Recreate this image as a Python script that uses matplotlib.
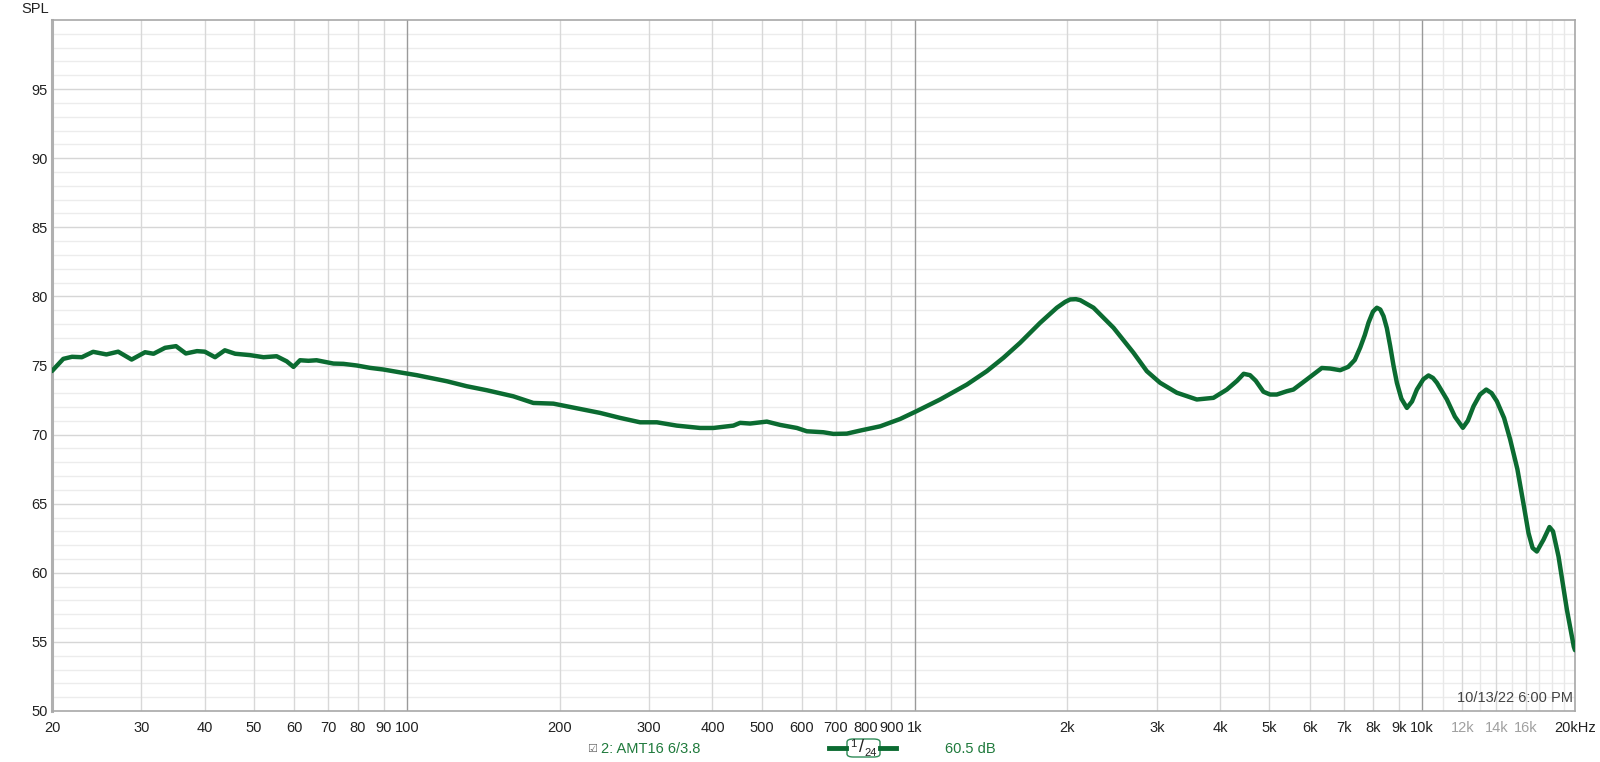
import matplotlib
matplotlib.use('Agg')
import matplotlib.pyplot as plt
from matplotlib.lines import Line2D
from matplotlib.patches import FancyBboxPatch
import numpy as np

plt.rcParams['font.family'] = ['Liberation Sans', 'DejaVu Sans']

freq = [20.0, 21.05, 21.9, 22.9, 24.1, 25.6, 27.0, 28.7, 30.5, 31.7, 33.4, 35.1,
        36.7, 38.6, 40.0, 41.9, 43.8, 45.9, 49.1, 52.2, 55.4, 58.0, 59.8, 61.6,
        64.0, 66.4, 71.7, 75.0, 79.7, 84.6, 89.9, 97.0, 104.6, 119.9, 131.2,
        143.7, 162.1, 177.5, 194.4, 219.4, 240.2, 263.0, 288.0, 310.8, 340.2,
        378.2, 401.6, 439.8, 453.4, 474.4, 511.8, 543.8, 586.4, 613.6, 661.4,
        692.2, 735.6, 781.4, 855.8, 936.8, 1010, 1123, 1268, 1388, 1497, 1614,
        1768, 1907, 1980, 2026, 2080, 2120, 2252, 2466, 2700, 2868, 3046, 3286,
        3598, 3880, 4124, 4320, 4450, 4580, 4700, 4868, 5018, 5172, 5414, 5576,
        5926, 6344, 6588, 6894, 7150, 7366, 7550, 7708, 7840, 8000, 8142, 8270,
        8392, 8520, 8650, 8780, 8916, 9100, 9330, 9550, 9762, 10050, 10290, 10500,
        10690, 11186, 11600, 12026, 12300, 12622, 13000, 13370, 13700, 14034,
        14500, 14906, 15400, 15832, 16196, 16500, 16822, 17334, 17814, 18100,
        18560, 19280, 19890, 20000]
spl = [74.6, 75.48, 75.63, 75.6, 75.99, 75.8, 76.0, 75.43, 75.96, 75.85, 76.28, 76.4,
       75.87, 76.04, 76.0, 75.6, 76.1, 75.85, 75.75, 75.6, 75.67, 75.3, 74.9, 75.38,
       75.34, 75.38, 75.14, 75.12, 75.0, 74.83, 74.71, 74.5, 74.3, 73.86, 73.5,
       73.21, 72.77, 72.29, 72.24, 71.86, 71.57, 71.21, 70.89, 70.89, 70.65,
       70.48, 70.48, 70.65, 70.85, 70.8, 70.94, 70.7, 70.48, 70.24, 70.17,
       70.05, 70.07, 70.29, 70.6, 71.13, 71.7, 72.54, 73.62, 74.59, 75.56, 76.64,
       78.09, 79.18, 79.6, 79.78, 79.8, 79.73, 79.18, 77.73, 75.92, 74.59, 73.75, 73.03,
       72.54, 72.66, 73.26, 73.9, 74.4, 74.3, 73.9, 73.1, 72.9, 72.9, 73.14, 73.26,
       73.99, 74.82, 74.78, 74.66, 74.9, 75.4, 76.3, 77.2, 78.1, 78.9, 79.18, 79.05,
       78.57, 77.7, 76.4, 75.0, 73.75, 72.6, 71.93, 72.4, 73.26, 74.0, 74.28, 74.1,
       73.75, 72.54, 71.3, 70.49, 71.0, 72.05, 72.9, 73.26, 73.0, 72.41,
       71.2, 69.64, 67.5, 65.0, 62.88, 61.8, 61.54, 62.39, 63.31, 63.0,
       61.18, 57.32, 54.66, 54.4]

ytick_vals = [50, 55, 60, 65, 70, 75, 80, 85, 90, 95]
xtick_vals = [20, 30, 40, 50, 60, 70, 80, 90, 100, 200, 300, 400, 500, 600, 700,
              800, 900, 1000, 2000, 3000, 4000, 5000, 6000, 7000, 8000, 9000,
              10000, 12000, 14000, 16000, 20000]
xtick_labels = ['20', '30', '40', '50', '60', '70', '80', '90', '100', '200', '300',
                '400', '500', '600', '700', '800', '900', '1k', '2k', '3k', '4k',
                '5k', '6k', '7k', '8k', '9k', '10k', '12k', '14k', '16k', '20kHz']
faint_labels = ['12k', '14k', '16k']
extra_grid = [11000, 13000, 15000, 17000, 18000, 19000]

W, H = 1600, 762
fig = plt.figure(figsize=(W / 100, H / 100), dpi=100)
ax = fig.add_axes([52 / W, 1 - 711 / H, (1575 - 52) / W, (711 - 20) / H])

ax.set_xscale('log')
ax.set_xlim(20, 20000)
ax.set_ylim(50, 100)

# grid
for y in range(51, 100):
    c = '#d6d6d6' if y % 5 == 0 else '#ececec'
    ax.axhline(y, color=c, lw=1, zorder=1)
for f in xtick_vals + extra_grid:
    if f in (100, 1000, 10000):
        c = '#9a9a9a'
    elif f in extra_grid:
        c = '#e8e8e8'
    else:
        c = '#d8d8d8'
    ax.axvline(f, color=c, lw=1, zorder=1)

ax.plot(freq, spl, color='#0b6b31', lw=3.2, solid_capstyle='round',
        solid_joinstyle='round', zorder=3)

ax.xaxis.set_major_locator(matplotlib.ticker.FixedLocator(xtick_vals))
ax.xaxis.set_minor_locator(matplotlib.ticker.NullLocator())
ax.set_xticklabels(xtick_labels)
ax.set_yticks(ytick_vals)
ax.tick_params(axis='both', length=0, labelsize=10.5, colors='#222222')
ax.tick_params(axis='x', pad=7)
ax.tick_params(axis='y', pad=3)
for lab in ax.get_xticklabels():
    if lab.get_text() in faint_labels:
        lab.set_color('#a0a0a0')

for s in ax.spines.values():
    s.set_color('#a8a8a8')
    s.set_linewidth(1.2)
ax.spines['left'].set_linewidth(2.2)
ax.spines['left'].set_color('#b0b0b0')

ax.text(0.9985, 0.008, '10/13/22 6:00 PM', transform=ax.transAxes,
        ha='right', va='bottom', fontsize=10.5, color='#444444')

def fx(px):
    return px / W

def fy(py):
    return 1 - py / H

fig.text(fx(35), fy(9), 'SPL', ha='center', va='center', fontsize=10.5, color='#222222')

green = '#1f7a3c'
fig.text(fx(592), fy(749), '\u2611', ha='center', va='center', fontsize=8,
         color='#666666', family=['DejaVu Sans'])
fig.text(fx(601), fy(749), '2: AMT16 6/3.8', ha='left', va='center',
         fontsize=10.5, color=green)

fig.lines.append(Line2D([fx(829), fx(846)], [fy(748), fy(748)], color='#0b6b31',
                        lw=3.5, transform=fig.transFigure))
fig.lines.append(Line2D([fx(880), fx(896)], [fy(748), fy(748)], color='#0b6b31',
                        lw=3.5, transform=fig.transFigure))
box = FancyBboxPatch((fx(847), fy(757)), fx(880) - fx(847), fy(739) - fy(757),
                     boxstyle='round,pad=0,rounding_size=0.004',
                     transform=fig.transFigure, facecolor='white',
                     edgecolor='#2e8b57', lw=1)
fig.patches.append(box)
fig.text(fx(853), fy(744), '1', ha='center', va='center', fontsize=8, color='#222222')
fig.text(fx(862), fy(748), '/', ha='center', va='center', fontsize=13, color='#222222')
fig.text(fx(871), fy(753), '24', ha='center', va='center', fontsize=8, color='#222222')

fig.text(fx(945), fy(749), '60.5 dB', ha='left', va='center', fontsize=10.5, color=green)

fig.savefig('out.png', dpi=100, facecolor='white')
